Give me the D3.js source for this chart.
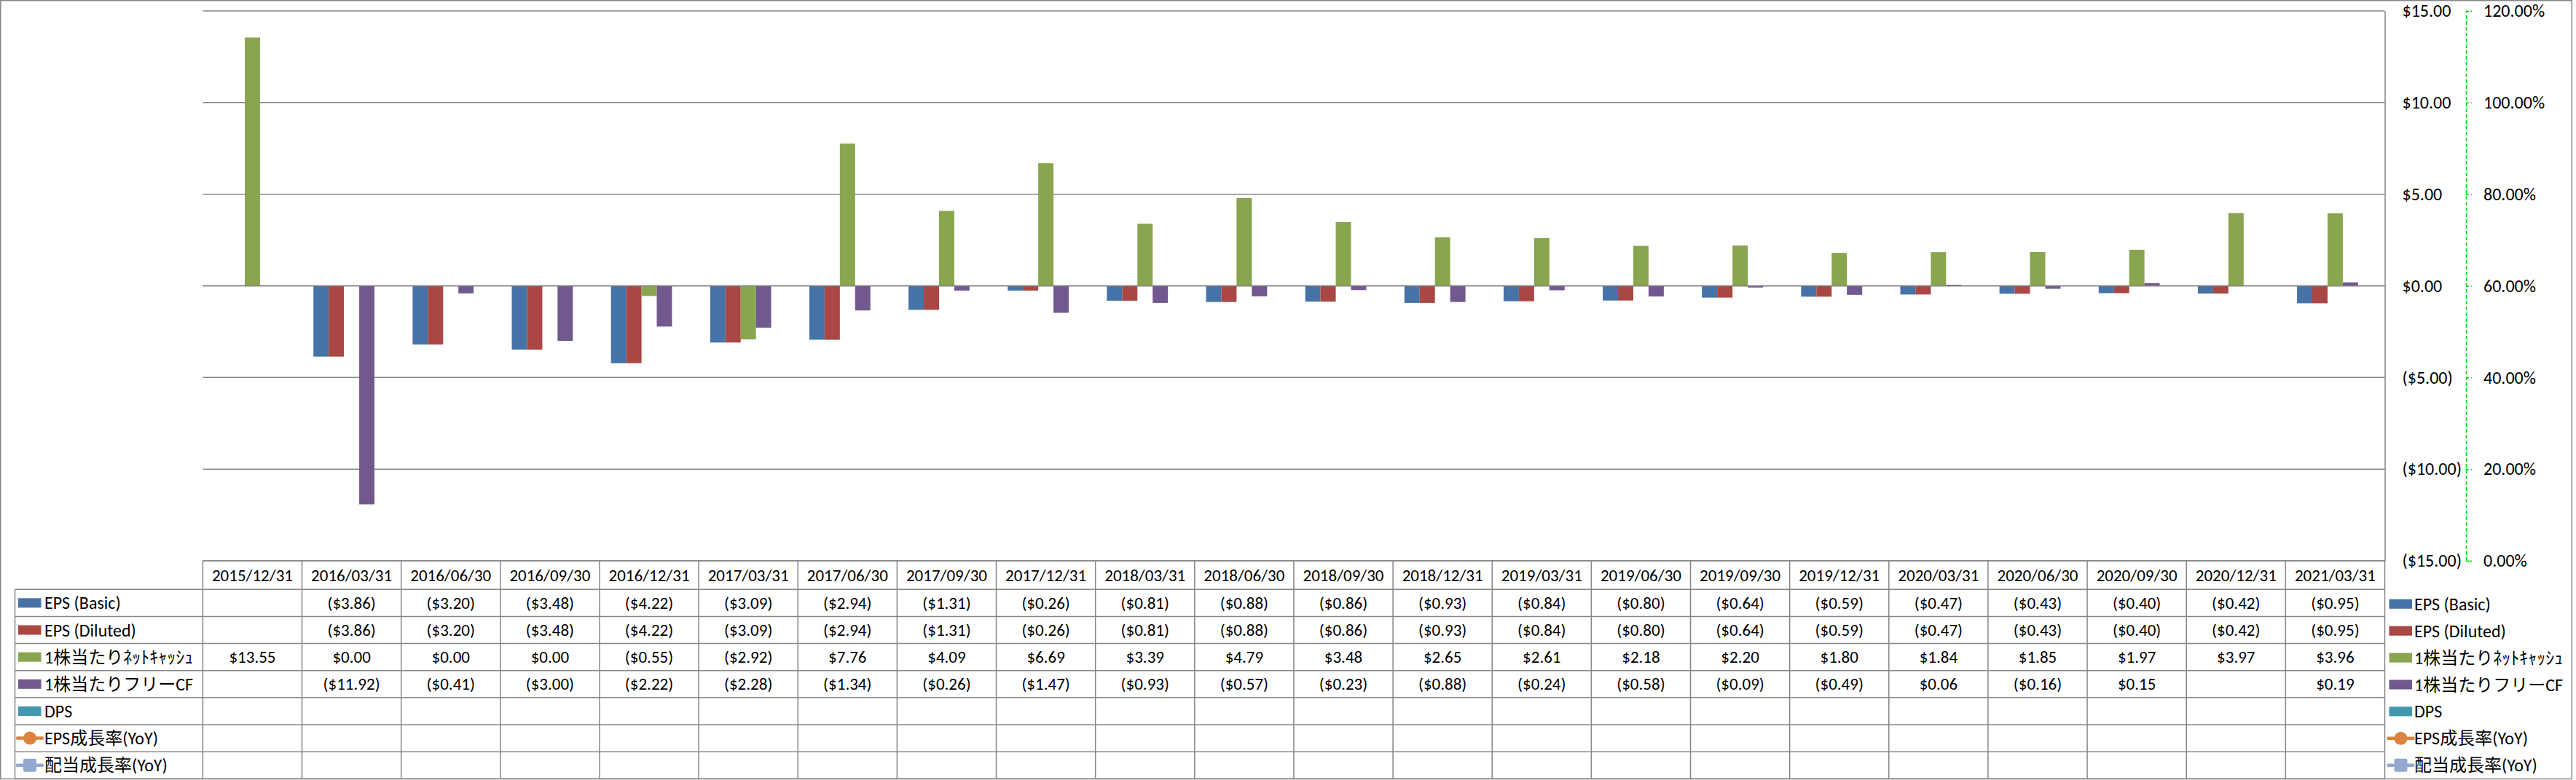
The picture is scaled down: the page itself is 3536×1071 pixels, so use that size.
<!DOCTYPE html>
<html>
<head>
<meta charset="utf-8">
<script src="https://cdn.jsdelivr.net/npm/d3@7"></script>
<style>
  html, body { margin: 0; padding: 0; background: #fff; }
  svg { display: block; }
  text { font-family: Carlito, Lato, "Noto Sans CJK JP", sans-serif; fill: #000; }
</style>
</head>
<body>
<svg id="chart" width="3536" height="1071"></svg>
<script>
// ---------- DATA ----------
const dates = ["2015/12/31","2016/03/31","2016/06/30","2016/09/30","2016/12/31","2017/03/31","2017/06/30","2017/09/30","2017/12/31","2018/03/31","2018/06/30","2018/09/30","2018/12/31","2019/03/31","2019/06/30","2019/09/30","2019/12/31","2020/03/31","2020/06/30","2020/09/30","2020/12/31","2021/03/31"];
const epsBasic   = [null,-3.86,-3.20,-3.48,-4.22,-3.09,-2.94,-1.31,-0.26,-0.81,-0.88,-0.86,-0.93,-0.84,-0.80,-0.64,-0.59,-0.47,-0.43,-0.40,-0.42,-0.95];
const epsDiluted = [null,-3.86,-3.20,-3.48,-4.22,-3.09,-2.94,-1.31,-0.26,-0.81,-0.88,-0.86,-0.93,-0.84,-0.80,-0.64,-0.59,-0.47,-0.43,-0.40,-0.42,-0.95];
const netCash    = [13.55,0.00,0.00,0.00,-0.55,-2.92,7.76,4.09,6.69,3.39,4.79,3.48,2.65,2.61,2.18,2.20,1.80,1.84,1.85,1.97,3.97,3.96];
const freeCF     = [null,-11.92,-0.41,-3.00,-2.22,-2.28,-1.34,-0.26,-1.47,-0.93,-0.57,-0.23,-0.88,-0.24,-0.58,-0.09,-0.49,0.06,-0.16,0.15,null,0.19];
const dps        = dates.map(() => null);
const epsGrowth  = dates.map(() => null);
const divGrowth  = dates.map(() => null);
const seriesNames = ["EPS (Basic)","EPS (Diluted)","1株当たりﾈｯﾄｷｬｯｼｭ","1株当たりフリーCF","DPS","EPS成長率(YoY)","配当成長率(YoY)"];
const seriesColors = ["#4572A7","#AA4643","#89A54E","#71588F","#4198AF","#DB843D","#93A9CF"];
const seriesKinds = ["bar","bar","bar","bar","bar","line","line"];
const seriesValues = [epsBasic, epsDiluted, netCash, freeCF, dps, epsGrowth, divGrowth];
const yTicks = [-15,-10,-5,0,5,10,15];
const pctTicks = [0,0.2,0.4,0.6,0.8,1.0,1.2];

// ---------- LAYOUT ----------
const svg = d3.select("#chart");
const W = 3536, H = 1071;
const plotL = 278.4, plotR = 3273.5, plotT = 15, plotB = 770;
const tableL = 20.5, headerB = 809.3, tableB = 1069.3;
const grid = "#868686";

svg.append("rect").attr("x",0).attr("y",0).attr("width",W).attr("height",H).attr("fill","#fff");

const x = d3.scaleBand().domain(dates).range([plotL, plotR]).padding(0);
const barIdx = seriesKinds.map((k,i)=>k==="bar"?i:-1).filter(i=>i>=0);
const xs = d3.scaleBand().domain(barIdx).range([0, x.bandwidth()]).paddingInner(0).paddingOuter(0.75);
const y = d3.scaleLinear().domain([-15,15]).range([plotB, plotT]);
const yPct = d3.scaleLinear().domain([0,1.2]).range([plotB, plotT]);

const fmt = v => v == null ? "" : (v < 0 ? "($" + Math.abs(v).toFixed(2) + ")" : "$" + v.toFixed(2));

// gridlines
svg.append("g").selectAll("line").data(yTicks).join("line")
  .attr("x1", plotL).attr("x2", plotR)
  .attr("y1", d => y(d)).attr("y2", d => y(d))
  .attr("stroke", grid).attr("stroke-width", 1.5);

// bars
const barG = svg.append("g");
barIdx.forEach(si => {
  const vals = seriesValues[si];
  barG.append("g").selectAll("rect")
    .data(dates.map((d,j)=>({d, v: vals[j]})).filter(o => o.v != null))
    .join("rect")
    .attr("x", o => x(o.d) + xs(si))
    .attr("width", xs.bandwidth())
    .attr("y", o => y(Math.max(0,o.v)))
    .attr("height", o => Math.abs(y(o.v) - y(0)))
    .attr("fill", seriesColors[si]);
});

// zero line on top like Excel category axis
svg.append("line").attr("x1", plotL).attr("x2", plotR).attr("y1", y(0)).attr("y2", y(0))
  .attr("stroke", grid).attr("stroke-width", 1.5);

// primary axis at right
const axisY = d3.axisRight(y).tickValues(yTicks).tickFormat(fmt).tickSize(0).tickPadding(24);
const gy = svg.append("g").attr("transform", `translate(${plotR},0)`).call(axisY);
gy.select(".domain").attr("stroke", grid).attr("stroke-width", 1.5);
gy.selectAll("text").attr("font-size", 24).style("font-family","Carlito, Lato, sans-serif")
  .attr("fill", d => d < 0 ? "#FF0000" : "#000");

// secondary axis (percent)
const axisP = d3.axisRight(yPct).tickValues(pctTicks).tickFormat(d3.format(".2%")).tickSize(8).tickSizeOuter(8).tickPadding(16);
const gp = svg.append("g").attr("transform", `translate(3385,0)`).call(axisP);
gp.select(".domain").attr("stroke", "#00E000").attr("stroke-width", 1.5).attr("stroke-dasharray","5,3");
gp.selectAll(".tick line").attr("stroke", "#00E000").attr("stroke-width", 1.5).attr("stroke-dasharray","4,3");
gp.selectAll("text").attr("font-size", 24).attr("fill","#000").style("font-family","Carlito, Lato, sans-serif");

// ---------- DATA TABLE ----------
const rowH = (tableB - headerB) / seriesNames.length;
const tg = svg.append("g");
tg.append("line").attr("x1", plotL).attr("x2", plotR).attr("y1", plotB).attr("y2", plotB).attr("stroke", grid).attr("stroke-width",1.5);
d3.range(seriesNames.length + 1).forEach(r => {
  tg.append("line").attr("x1", tableL).attr("x2", plotR)
    .attr("y1", headerB + r*rowH).attr("y2", headerB + r*rowH)
    .attr("stroke", grid).attr("stroke-width", 1.5);
});
tg.append("line").attr("x1", tableL).attr("x2", tableL).attr("y1", headerB).attr("y2", tableB).attr("stroke", grid).attr("stroke-width",1.5);
dates.concat(["__end"]).forEach((d,i) => {
  const xx = i < dates.length ? x(d) : plotR;
  tg.append("line").attr("x1", xx).attr("x2", xx).attr("y1", plotB).attr("y2", tableB).attr("stroke", grid).attr("stroke-width",1.5);
});
tg.append("g").selectAll("text").data(dates).join("text")
  .attr("x", d => x(d) + x.bandwidth()/2).attr("y", (plotB + headerB)/2)
  .attr("text-anchor","middle").attr("dominant-baseline","central")
  .attr("font-size", 23).text(d => d);
seriesValues.forEach((vals, si) => {
  tg.append("g").selectAll("text").data(dates.map((d,j)=>({d, v: vals[j]}))).join("text")
    .attr("x", o => x(o.d) + x.bandwidth()/2).attr("y", headerB + (si+0.5)*rowH)
    .attr("text-anchor","middle").attr("dominant-baseline","central")
    .attr("font-size", 23).text(o => fmt(o.v));
});

function drawKey(g, si, kx, cy) {
  const c = seriesColors[si];
  if (seriesKinds[si] === "bar") {
    g.append("rect").attr("x", kx).attr("y", cy - 6.5).attr("width", 31.5).attr("height", 13).attr("fill", c);
  } else {
    g.append("line").attr("x1", kx - 1).attr("x2", kx + 33).attr("y1", cy).attr("y2", cy)
      .attr("stroke", c).attr("stroke-width", 4.5).attr("stroke-linecap","round");
    if (si === 5) {
      g.append("circle").attr("cx", kx + 16).attr("cy", cy).attr("r", 9).attr("fill", c);
    } else {
      g.append("rect").attr("x", kx + 7).attr("y", cy - 9).attr("width", 18).attr("height", 18).attr("rx", 2).attr("fill", c);
    }
  }
}

seriesNames.forEach((name, si) => {
  const cy = headerB + (si+0.5)*rowH;
  drawKey(tg, si, 25, cy);
  tg.append("text").attr("x", 61).attr("y", cy).attr("dominant-baseline","central")
    .attr("font-size", 24).text(name);
});

// ---------- LEGEND (right) ----------
const lg = svg.append("g");
seriesNames.forEach((name, si) => {
  const cy = 829.3 + si*36.9;
  drawKey(lg, si, 3279.5, cy);
  lg.append("text").attr("x", 3314).attr("y", cy).attr("dominant-baseline","central")
    .attr("font-size", 24).text(name);
});

// outer chart border
svg.append("rect").attr("x", 0.75).attr("y", 0.75).attr("width", 3529.5).attr("height", 1068.8)
  .attr("fill","none").attr("stroke", grid).attr("stroke-width", 1.5);
</script>
</body>
</html>
